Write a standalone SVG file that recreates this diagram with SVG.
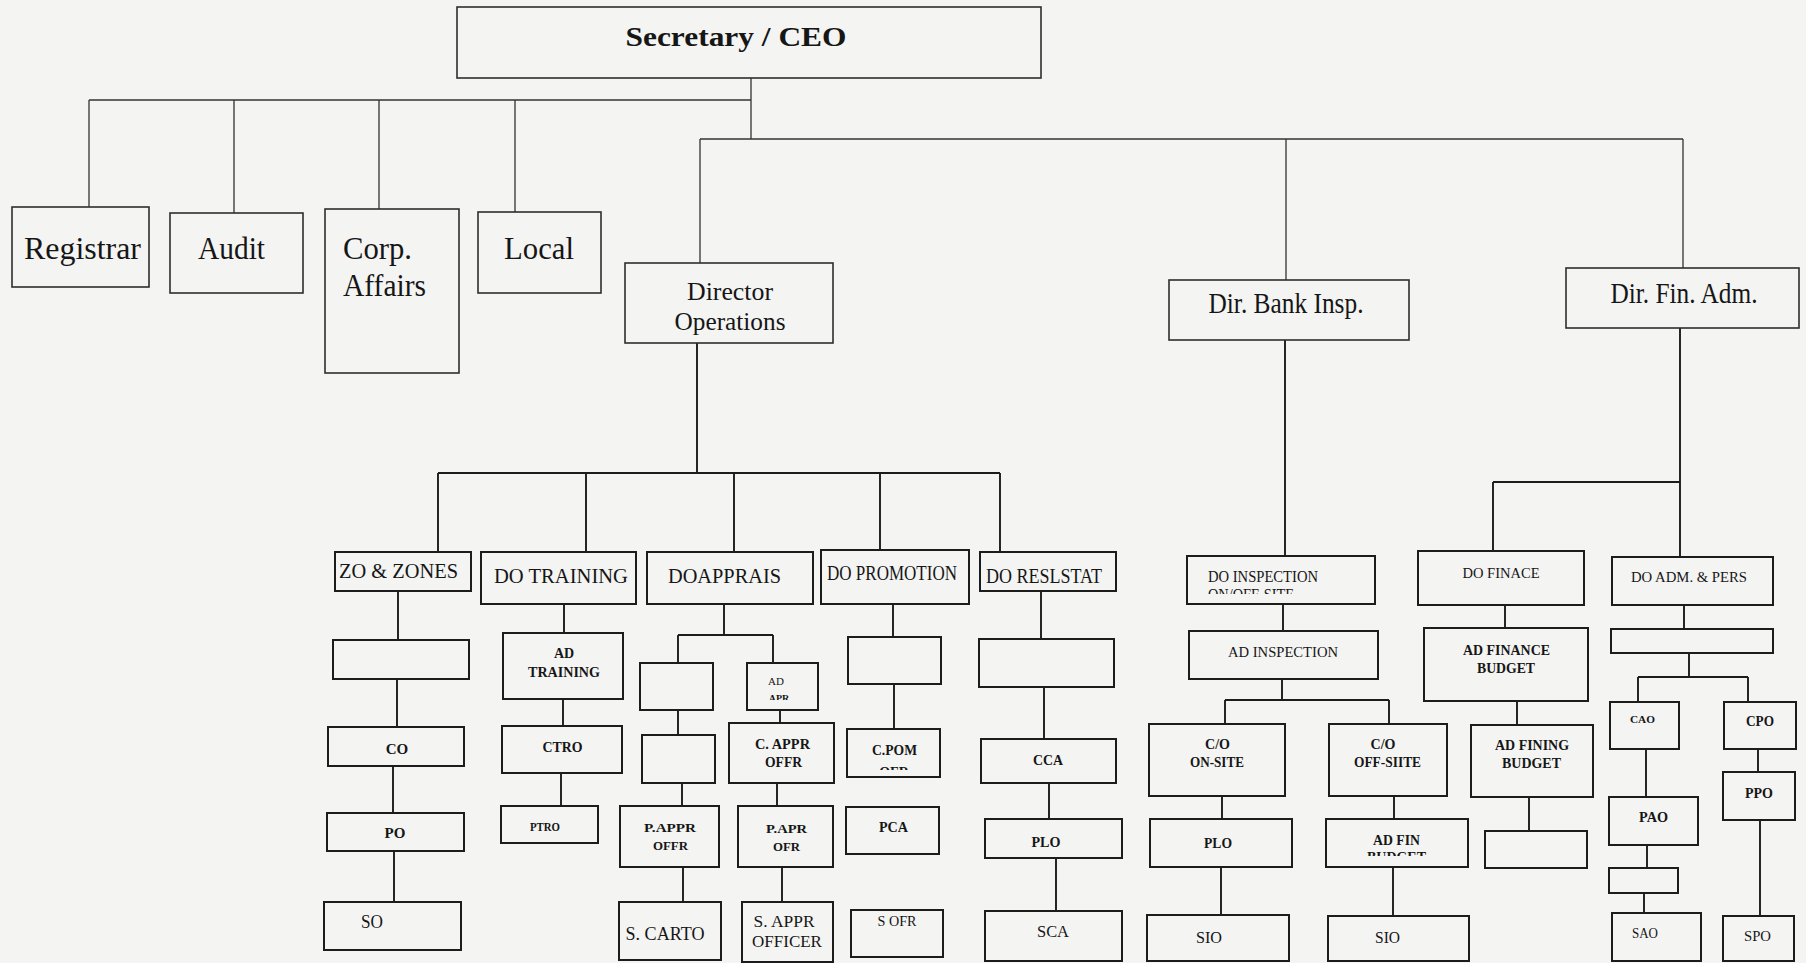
<svg xmlns="http://www.w3.org/2000/svg" width="1806" height="963" viewBox="0 0 1806 963">
<style>
.bg{fill:#f4f4f3}
.tb{fill:none;stroke:#2e2e2e;stroke-width:1.6}
.bx{fill:none;stroke:#1c1c1c;stroke-width:2}
.cn1 path{fill:none;stroke:#333;stroke-width:1.3}
.cn2 path{fill:none;stroke:#1c1c1c;stroke-width:1.9}
text{font-family:"Liberation Serif","Times New Roman",serif;fill:#161616;text-anchor:middle}
.s{text-anchor:start}
.b{font-weight:bold}
</style>
<defs>
<clipPath id="cAPR"><rect x="747" y="663" width="71" height="37"/></clipPath>
<clipPath id="cPOM"><rect x="847" y="729" width="93" height="41"/></clipPath>
<clipPath id="cINS"><rect x="1187" y="556" width="188" height="38"/></clipPath>
<clipPath id="cFIN"><rect x="1326" y="819" width="142" height="37"/></clipPath>
</defs>
<rect class="bg" x="0" y="0" width="1806" height="963"/>

<g id="connectors">
<g class="cn1">
<path d="M751 78V139M89 100H751M89 100V207M234 100V213M379 100V209M515 100V212"/>
<path d="M700 139H1683M700 139V263M1286 139V280M1683 139V268"/>
</g>
<g class="cn2">
<path d="M697 343V473M438 473H1000M438 473V552M586 473V552M734 473V552M880 473V550M1000 473V552"/>
<path d="M1285 340V556M1680 328V557M1493 482H1680M1493 482V551"/>
<path d="M398 591V640M397 679V727M393 766V813M394 851V902"/>
<path d="M564 604V633M563 699V726M561 773V806"/>
<path d="M724 604V635M678 635H773M678 635V663M773 635V663M678 710V735M682 783V806M683 867V902"/>
<path d="M780 710V723M777 783V806M782 867V902"/>
<path d="M893 604V637M894 684V729"/>
<path d="M1041 591V639M1044 687V739M1049 783V819M1056 858V911"/>
<path d="M1283 604V631M1282 679V700M1225 700H1389M1225 700V724M1389 700V724M1222 796V819M1221 867V915M1394 796V819M1393 867V916"/>
<path d="M1505 605V628M1517 701V725M1529 797V831"/>
<path d="M1684 605V629M1689 653V677M1638 677H1748M1638 677V702M1748 677V702M1646 749V797M1647 845V868M1644 893V913M1758 749V772M1760 820V916"/>
</g>
</g>

<g id="ceo"><rect class="tb" x="457" y="7" width="584" height="71"/><text x="736" y="46" font-size="28" font-weight="bold" textLength="221" lengthAdjust="spacingAndGlyphs">Secretary / CEO</text></g>
<g id="registrar"><rect class="tb" x="12" y="207" width="137" height="80"/><text x="82.5" y="259" font-size="32" textLength="117" lengthAdjust="spacingAndGlyphs">Registrar</text></g>
<g id="audit"><rect class="tb" x="170" y="213" width="133" height="80"/><text x="231.5" y="259" font-size="32" textLength="67" lengthAdjust="spacingAndGlyphs">Audit</text></g>
<g id="corp"><rect class="tb" x="325" y="209" width="134" height="164"/><text class="s" x="343" y="259" font-size="32" textLength="69" lengthAdjust="spacingAndGlyphs">Corp.</text><text class="s" x="343" y="296" font-size="32" textLength="83" lengthAdjust="spacingAndGlyphs">Affairs</text></g>
<g id="local"><rect class="tb" x="478" y="212" width="123" height="81"/><text x="539" y="259" font-size="32" textLength="70" lengthAdjust="spacingAndGlyphs">Local</text></g>
<g id="dirops"><rect class="tb" x="625" y="263" width="208" height="80"/><text x="730" y="300" font-size="26" textLength="86" lengthAdjust="spacingAndGlyphs">Director</text><text x="730" y="330" font-size="26" textLength="111" lengthAdjust="spacingAndGlyphs">Operations</text></g>
<g id="dirbank"><rect class="tb" x="1169" y="280" width="240" height="60"/><text x="1286" y="313" font-size="29" textLength="155" lengthAdjust="spacingAndGlyphs">Dir. Bank Insp.</text></g>
<g id="dirfin"><rect class="tb" x="1566" y="268" width="233" height="60"/><text x="1684" y="303" font-size="29" textLength="147" lengthAdjust="spacingAndGlyphs">Dir. Fin. Adm.</text></g>

<g id="zo"><rect class="bx" x="335" y="552" width="136" height="39"/><text x="398.5" y="578" font-size="21" textLength="119" lengthAdjust="spacingAndGlyphs">ZO &amp; ZONES</text></g>
<g id="zo-empty"><rect class="bx" x="333" y="640" width="136" height="39"/></g>
<g id="co"><rect class="bx" x="328" y="727" width="136" height="39"/><text class="b" x="397" y="754" font-size="15">CO</text></g>
<g id="po"><rect class="bx" x="327" y="813" width="137" height="38"/><text class="b" x="395" y="838" font-size="15">PO</text></g>
<g id="so"><rect class="bx" x="324" y="902" width="137" height="48"/><text x="372" y="928" font-size="19" textLength="22" lengthAdjust="spacingAndGlyphs">SO</text></g>

<g id="dotraining"><rect class="bx" x="481" y="552" width="155" height="52"/><text x="561" y="583" font-size="22" textLength="134" lengthAdjust="spacingAndGlyphs">DO TRAINING</text></g>
<g id="adtraining"><rect class="bx" x="503" y="633" width="120" height="66"/><text class="b" x="564" y="658" font-size="14">AD</text><text class="b" x="564" y="677" font-size="14" textLength="72" lengthAdjust="spacingAndGlyphs">TRAINING</text></g>
<g id="ctro"><rect class="bx" x="502" y="726" width="120" height="47"/><text class="b" x="562.5" y="752" font-size="14" textLength="40" lengthAdjust="spacingAndGlyphs">CTRO</text></g>
<g id="ptro"><rect class="bx" x="501" y="806" width="97" height="37"/><text class="b" x="545" y="831" font-size="13" textLength="30" lengthAdjust="spacingAndGlyphs">PTRO</text></g>

<g id="doapprais"><rect class="bx" x="647" y="552" width="166" height="52"/><text x="724.5" y="583" font-size="22" textLength="113" lengthAdjust="spacingAndGlyphs">DOAPPRAIS</text></g>
<g id="appr-empty1"><rect class="bx" x="640" y="663" width="73" height="47"/></g>
<g id="appr-empty2"><rect class="bx" x="642" y="735" width="73" height="48"/></g>
<g id="pappr"><rect class="bx" x="620" y="806" width="99" height="61"/><text class="b" x="670" y="832" font-size="13" textLength="52" lengthAdjust="spacingAndGlyphs">P.APPR</text><text class="b" x="670.5" y="850" font-size="13" textLength="35" lengthAdjust="spacingAndGlyphs">OFFR</text></g>
<g id="scarto"><rect class="bx" x="619" y="902" width="102" height="58"/><text x="665" y="940" font-size="18" textLength="79" lengthAdjust="spacingAndGlyphs">S. CARTO</text></g>
<g id="adapr"><rect class="bx" x="747" y="663" width="71" height="47"/><text x="776" y="685" font-size="11">AD</text><text class="b" x="779" y="701.5" font-size="10" clip-path="url(#cAPR)">APR</text></g>
<g id="cappr"><rect class="bx" x="729" y="723" width="105" height="60"/><text class="b" x="782.5" y="749" font-size="14" textLength="55" lengthAdjust="spacingAndGlyphs">C. APPR</text><text class="b" x="783.5" y="767" font-size="14" textLength="37" lengthAdjust="spacingAndGlyphs">OFFR</text></g>
<g id="papr"><rect class="bx" x="738" y="806" width="95" height="61"/><text class="b" x="786.5" y="833" font-size="13" textLength="41" lengthAdjust="spacingAndGlyphs">P.APR</text><text class="b" x="786.5" y="851" font-size="13" textLength="27" lengthAdjust="spacingAndGlyphs">OFR</text></g>
<g id="sappr"><rect class="bx" x="742" y="902" width="91" height="60"/><text x="784" y="927" font-size="17" textLength="61" lengthAdjust="spacingAndGlyphs">S. APPR</text><text x="787" y="947" font-size="17">OFFICER</text></g>

<g id="dopromotion"><rect class="bx" x="821" y="550" width="148" height="54"/><text x="892" y="580" font-size="20" textLength="130" lengthAdjust="spacingAndGlyphs">DO PROMOTION</text></g>
<g id="promo-empty"><rect class="bx" x="848" y="637" width="93" height="47"/></g>
<g id="cpom"><rect class="bx" x="847" y="729" width="93" height="48"/><text class="b" x="894.5" y="755" font-size="15" textLength="45" lengthAdjust="spacingAndGlyphs">C.POM</text><text class="b" x="894" y="777" font-size="14" clip-path="url(#cPOM)">OFR</text></g>
<g id="pca"><rect class="bx" x="846" y="807" width="93" height="47"/><text class="b" x="893.5" y="832" font-size="14" textLength="29" lengthAdjust="spacingAndGlyphs">PCA</text></g>
<g id="sofr"><rect class="bx" x="851" y="910" width="92" height="47"/><text x="897" y="926" font-size="14" textLength="39" lengthAdjust="spacingAndGlyphs">S OFR</text></g>

<g id="doreslstat"><rect class="bx" x="980" y="552" width="136" height="39"/><text x="1044" y="583" font-size="20" textLength="116" lengthAdjust="spacingAndGlyphs">DO RESLSTAT</text></g>
<g id="resl-empty"><rect class="bx" x="979" y="639" width="135" height="48"/></g>
<g id="cca"><rect class="bx" x="981" y="739" width="135" height="44"/><text class="b" x="1048" y="765" font-size="14" textLength="30" lengthAdjust="spacingAndGlyphs">CCA</text></g>
<g id="plo1"><rect class="bx" x="985" y="819" width="137" height="39"/><text class="b" x="1046" y="847" font-size="14" textLength="29" lengthAdjust="spacingAndGlyphs">PLO</text></g>
<g id="sca"><rect class="bx" x="985" y="911" width="137" height="50"/><text x="1053" y="937" font-size="17" textLength="32" lengthAdjust="spacingAndGlyphs">SCA</text></g>

<g id="doinspection"><rect class="bx" x="1187" y="556" width="188" height="48"/><text class="s" x="1208" y="582" font-size="16" textLength="110" lengthAdjust="spacingAndGlyphs">DO INSPECTION</text><text class="s" x="1208" y="600" font-size="16" textLength="86" lengthAdjust="spacingAndGlyphs" clip-path="url(#cINS)">ON/OFF-SITE</text></g>
<g id="adinspection"><rect class="bx" x="1189" y="631" width="189" height="48"/><text x="1283" y="657" font-size="14" textLength="110" lengthAdjust="spacingAndGlyphs">AD INSPECTION</text></g>
<g id="coonsite"><rect class="bx" x="1149" y="724" width="136" height="72"/><text class="b" x="1217.5" y="749" font-size="14">C/O</text><text class="b" x="1217" y="767" font-size="14" textLength="54" lengthAdjust="spacingAndGlyphs">ON-SITE</text></g>
<g id="plo2"><rect class="bx" x="1150" y="819" width="142" height="48"/><text class="b" x="1218" y="848" font-size="14" textLength="28" lengthAdjust="spacingAndGlyphs">PLO</text></g>
<g id="sio1"><rect class="bx" x="1147" y="915" width="142" height="46"/><text x="1209" y="943" font-size="16" textLength="26" lengthAdjust="spacingAndGlyphs">SIO</text></g>
<g id="cooffsite"><rect class="bx" x="1329" y="724" width="118" height="72"/><text class="b" x="1383" y="749" font-size="14">C/O</text><text class="b" x="1387.5" y="767" font-size="14" textLength="67" lengthAdjust="spacingAndGlyphs">OFF-SIITE</text></g>
<g id="adfinbudget"><rect class="bx" x="1326" y="819" width="142" height="48"/><text class="b" x="1396.5" y="845" font-size="14" textLength="47" lengthAdjust="spacingAndGlyphs">AD FIN</text><text class="b" x="1396.5" y="862" font-size="14" textLength="59" lengthAdjust="spacingAndGlyphs" clip-path="url(#cFIN)">BUDGET</text></g>
<g id="sio2"><rect class="bx" x="1328" y="916" width="141" height="45"/><text x="1387.5" y="943" font-size="16" textLength="25" lengthAdjust="spacingAndGlyphs">SIO</text></g>

<g id="dofinace"><rect class="bx" x="1418" y="551" width="166" height="54"/><text x="1501" y="578" font-size="15" textLength="77" lengthAdjust="spacingAndGlyphs">DO FINACE</text></g>
<g id="adfinance"><rect class="bx" x="1424" y="628" width="164" height="73"/><text class="b" x="1506.5" y="655" font-size="14" textLength="87" lengthAdjust="spacingAndGlyphs">AD FINANCE</text><text class="b" x="1506" y="673" font-size="14" textLength="58" lengthAdjust="spacingAndGlyphs">BUDGET</text></g>
<g id="adfining"><rect class="bx" x="1471" y="725" width="122" height="72"/><text class="b" x="1532" y="750" font-size="14" textLength="74" lengthAdjust="spacingAndGlyphs">AD FINING</text><text class="b" x="1531.5" y="768" font-size="14" textLength="59" lengthAdjust="spacingAndGlyphs">BUDGET</text></g>
<g id="fin-empty"><rect class="bx" x="1485" y="831" width="102" height="37"/></g>

<g id="doadm"><rect class="bx" x="1612" y="557" width="161" height="48"/><text x="1689" y="582" font-size="15" textLength="116" lengthAdjust="spacingAndGlyphs">DO ADM. &amp; PERS</text></g>
<g id="adm-empty"><rect class="bx" x="1611" y="629" width="162" height="24"/></g>
<g id="cao"><rect class="bx" x="1610" y="702" width="69" height="47"/><text class="b" x="1642.5" y="723" font-size="11" textLength="25" lengthAdjust="spacingAndGlyphs">CAO</text></g>
<g id="pao"><rect class="bx" x="1609" y="797" width="89" height="48"/><text class="b" x="1653.5" y="822" font-size="14" textLength="29" lengthAdjust="spacingAndGlyphs">PAO</text></g>
<g id="pao-empty"><rect class="bx" x="1609" y="868" width="69" height="25"/></g>
<g id="sao"><rect class="bx" x="1612" y="913" width="89" height="48"/><text x="1645" y="938" font-size="14" textLength="26" lengthAdjust="spacingAndGlyphs">SAO</text></g>
<g id="cpo"><rect class="bx" x="1724" y="702" width="72" height="47"/><text class="b" x="1760" y="726" font-size="14" textLength="28" lengthAdjust="spacingAndGlyphs">CPO</text></g>
<g id="ppo"><rect class="bx" x="1723" y="772" width="72" height="48"/><text class="b" x="1759" y="798" font-size="14" textLength="28" lengthAdjust="spacingAndGlyphs">PPO</text></g>
<g id="spo"><rect class="bx" x="1723" y="916" width="71" height="45"/><text x="1757.5" y="941" font-size="14" textLength="27" lengthAdjust="spacingAndGlyphs">SPO</text></g>
</svg>
